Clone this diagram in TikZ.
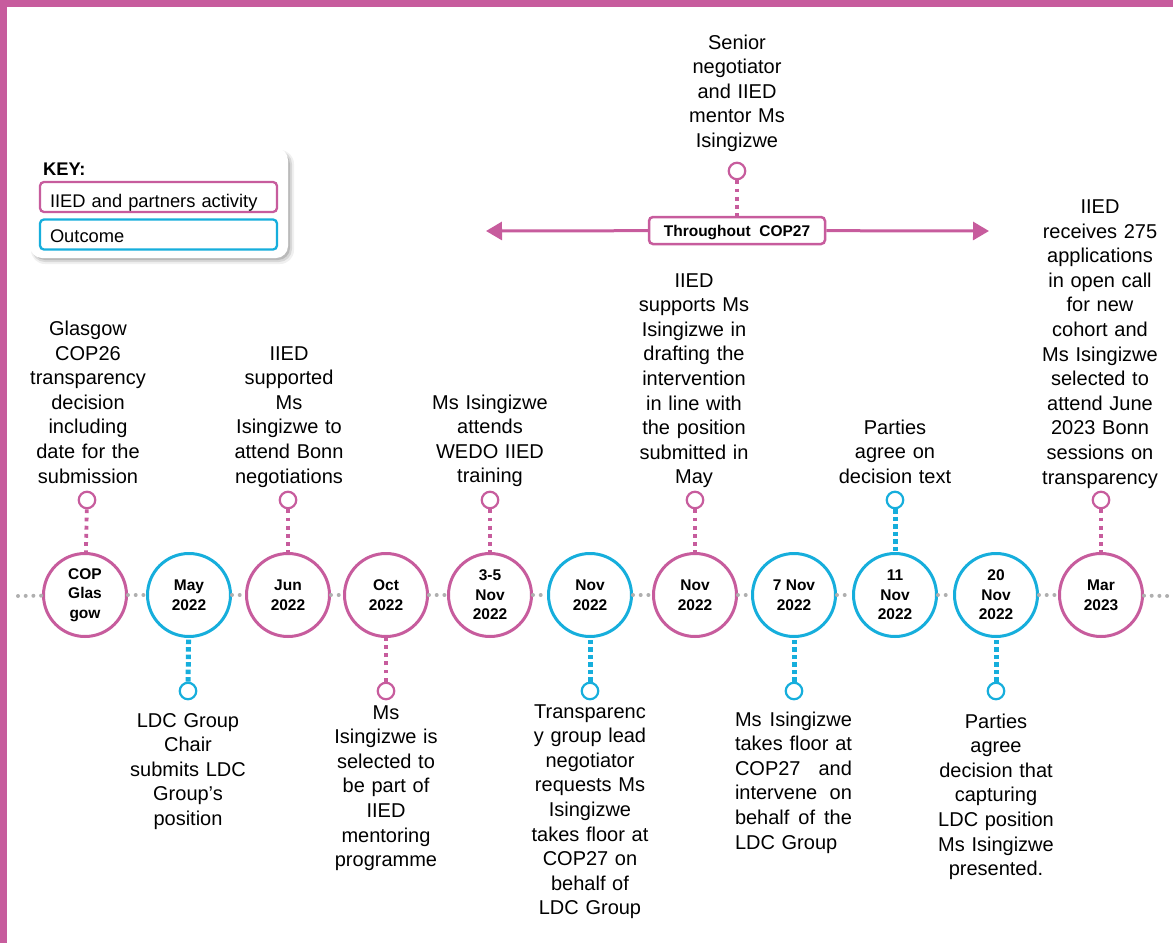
\documentclass[tikz,border=0pt]{standalone}
\usepackage{fontspec}
\setmainfont{Liberation Sans}
\usetikzlibrary{arrows.meta}
\definecolor{pk}{RGB}{199,92,157}
\definecolor{bl}{RGB}{22,174,220}
\definecolor{gr}{RGB}{175,175,175}
\begin{document}
\begin{tikzpicture}[x=1pt,y=-1pt,
  big/.style={circle, draw, line width=3pt, fill=white, minimum size=83pt, inner sep=0pt, align=center, font=\fontsize{15.5}{19.5}\selectfont\bfseries},
  bigp/.style={big, draw=pk}, bigb/.style={big, draw=bl},
  sm/.style={circle, line width=2.2pt, fill=white, minimum size=16.5pt, inner sep=0pt},
  smp/.style={sm, draw=pk}, smb/.style={sm, draw=bl},
  pdots/.style={draw=pk, line width=3.8pt, dash pattern=on 3.8pt off 4.4pt},
  bdots/.style={draw=bl, line width=5pt, dash pattern=on 4.5pt off 3pt},
  gdots/.style={draw=gr, line width=4pt, dash pattern=on 0pt off 7.7pt, line cap=round},
  txt/.style={text width=170pt, align=center, inner sep=0pt, anchor=base, font=\fontsize{20}{24.6}\selectfont},
  txtj/.style={text width=117pt, align=left, inner sep=0pt, anchor=base, font=\fontsize{20}{24.6}\selectfont},
  keyb/.style={rounded corners=4pt, line width=2.3pt, minimum width=237pt, minimum height=30pt, text width=217pt, inner xsep=10pt, inner ysep=0pt, align=left, text depth=0pt, font=\fontsize{18.3}{20}\selectfont},
  arr/.style={draw=pk, line width=3pt, -{Triangle[length=16pt,width=18pt]}},
]
\useasboundingbox (0,0) rectangle (1173,943);
% border
\fill[pk] (0,0) rectangle (1173,7);
\fill[pk] (0,0) rectangle (7,943);

% key
\fill[black, opacity=0.06, rounded corners=14pt] (31,150) rectangle (294,264);
\fill[black, opacity=0.10, rounded corners=13pt] (32,151) rectangle (292,262);
\fill[black, opacity=0.14, rounded corners=12pt] (33,152) rectangle (290,260);
\node[fill=white, rounded corners=12pt, minimum width=258pt, minimum height=110pt, inner sep=0pt] (key) at (159,203) {};
\node[anchor=base west, inner sep=0pt, font=\fontsize{18.3}{20}\selectfont\bfseries] (keyt) at (43,175) {KEY:};
\node[keyb, draw=pk, text height=20pt] (k1) at (158.5,197) {IIED and partners activity};
\node[keyb, draw=bl, text height=15pt] (k2) at (158.5,234.5) {Outcome};

% timeline
\coordinate (tl) at (18,596);
\coordinate (tr) at (1168,596);

% big circles
\node[bigp] (c1) at (85,595) {COP\\Glas\\gow};
\node[bigb] (c2) at (189,595) {May\\2022};
\node[bigp] (c3) at (288,595) {Jun\\2022};
\node[bigp] (c4) at (386,595) {Oct\\2022};
\node[bigp] (c5) at (490,595) {3-5\\Nov\\2022};
\node[bigb] (c6) at (590,595) {Nov\\2022};
\node[bigp] (c7) at (695,595) {Nov\\2022};
\node[bigb] (c8) at (794,595) {7 Nov\\2022};
\node[bigb] (c9) at (895,595) {11\\Nov\\2022};
\node[bigb] (c10) at (996,595) {20\\Nov\\2022};
\node[bigp] (c11) at (1101,595) {Mar\\2023};

\draw[gdots] (tl) -- (c1);
\foreach \a/\b in {c1/c2,c2/c3,c3/c4,c4/c5,c5/c6,c6/c7,c7/c8,c8/c9,c9/c10,c10/c11}
  \draw[gdots] (\a) -- (\b);
\draw[gdots] (c11) -- (tr);

% small circles
\node[smp] (s1) at (87,500) {};
\node[smb] (s2) at (188,691) {};
\node[smp] (s3) at (288,500) {};
\node[smp] (s4) at (386,691) {};
\node[smp] (s5) at (490,500) {};
\node[smb] (s6) at (590,691) {};
\node[smp] (s7) at (695,500) {};
\node[smb] (s8) at (794,691) {};
\node[smb] (s9) at (895,500) {};
\node[smb] (s10) at (996,691) {};
\node[smp] (s11) at (1101,500) {};
\node[smp] (sS) at (737,171) {};

\draw[pdots] (s1) -- (c1);
\draw[bdots] (s2) -- (c2);
\draw[pdots] (s3) -- (c3);
\draw[pdots] (s4) -- (c4);
\draw[pdots] (s5) -- (c5);
\draw[bdots] (s6) -- (c6);
\draw[pdots] (s7) -- (c7);
\draw[bdots] (s8) -- (c8);
\draw[bdots] (s9) -- (c9);
\draw[bdots] (s10) -- (c10);
\draw[pdots] (s11) -- (c11);

% throughout COP27
\node[draw=pk, line width=2.5pt, fill=white, rounded corners=4pt, minimum width=176pt, minimum height=27pt, inner sep=0pt, text height=12pt, text depth=0pt, font=\fontsize{15.5}{18}\selectfont\bfseries] (tc) at (737,230.5) {Throughout\ \ COP27};
\coordinate (al) at (486,231);
\coordinate (ar) at (989,231);
\draw[pdots] (sS) -- (tc);
\draw[arr] (tc) -- (al);
\draw[arr] (tc) -- (ar);

% top texts
\node[txt] (tS) at (737,49) {Senior\\negotiator\\and IIED\\mentor Ms\\Isingizwe};
\node[txt] (tA) at (88,335.5) {Glasgow\\COP26\\transparency\\decision\\including\\date for the\\submission};
\node[txt] (tC) at (289,360) {IIED\\supported\\Ms\\Isingizwe to\\attend Bonn\\negotiations};
\node[txt] (tE) at (490,409) {Ms Isingizwe\\attends\\WEDO IIED\\training};
\node[txt] (tG) at (694,287) {IIED\\supports Ms\\Isingizwe in\\drafting the\\intervention\\in line with\\the position\\submitted in\\May};
\node[txt] (tI) at (895,434) {Parties\\agree on\\decision text};
\node[txt] (tK) at (1100,213.5) {IIED\\receives 275\\applications\\in open call\\for new\\cohort and\\Ms Isingizwe\\selected to\\attend June\\2023 Bonn\\sessions on\\transparency};

% bottom texts
\node[txt] (bB) at (188,727) {LDC Group\\Chair\\submits LDC\\Group’s\\position};
\node[txt] (bD) at (386,719) {Ms\\Isingizwe is\\selected to\\be part of\\IIED\\mentoring\\programme};
\node[txt] (bF) at (590,718) {Transparenc\\y group lead\\negotiator\\requests Ms\\Isingizwe\\takes floor at\\COP27 on\\behalf of\\LDC Group};
\node[txtj] (bH) at (793.5,726) {\makebox[117pt][s]{Ms\hfill Isingizwe}\\\makebox[117pt][s]{takes\hfill floor\hfill at}\\\makebox[117pt][s]{COP27\hfill and}\\\makebox[117pt][s]{intervene\hfill on}\\\makebox[117pt][s]{behalf\hfill of\hfill the}\\LDC Group};
\node[txt] (bJ) at (996,728) {Parties\\agree\\decision that\\capturing\\LDC position\\Ms Isingizwe\\presented.};
\end{tikzpicture}
\end{document}
